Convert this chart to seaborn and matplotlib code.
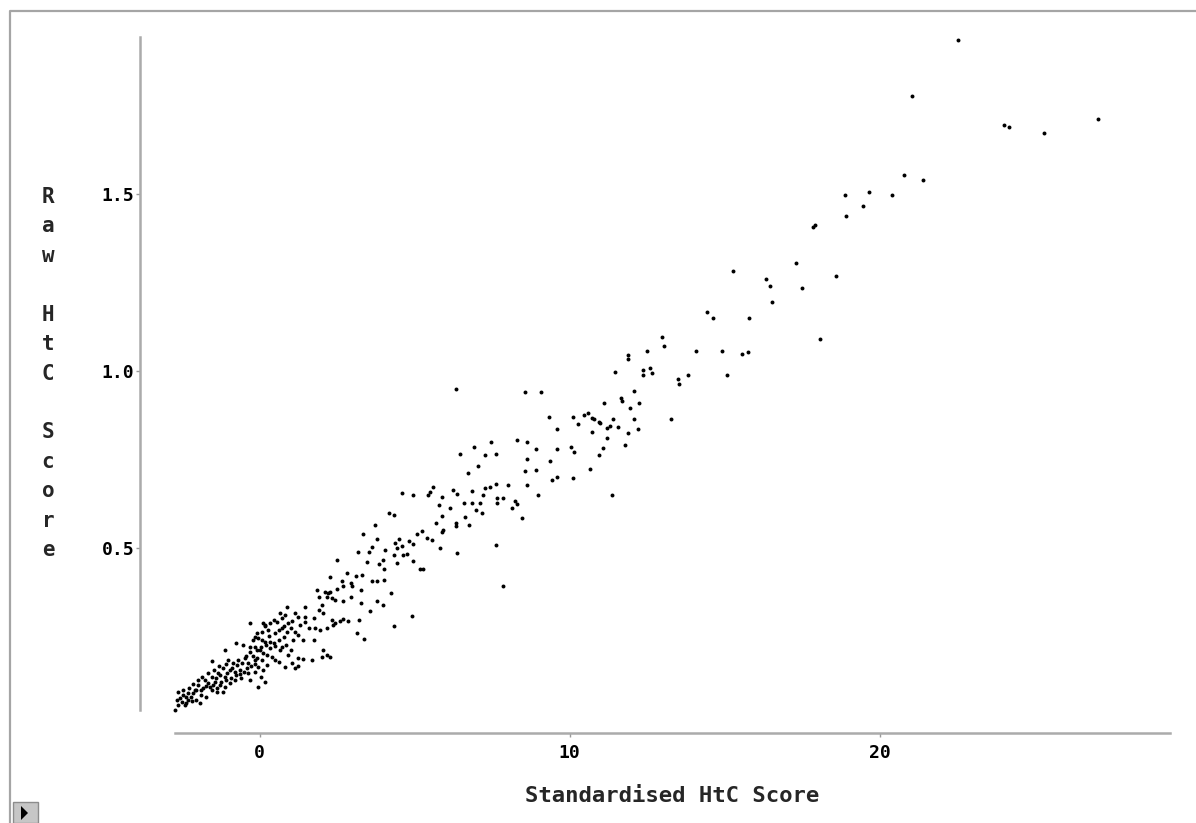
import matplotlib
matplotlib.use("Agg")
import matplotlib.pyplot as plt
import seaborn as sns
import pandas as pd
from matplotlib.lines import Line2D
from matplotlib.patches import Rectangle, Polygon

# ---------------- data ----------------
std_scores = [
    22.54, 21.06, 24.03, 24.18, 25.31, 27.04, 20.80, 21.39, 18.89, 19.66,
    20.40, 19.48, 18.93, 17.86, 17.92, 17.30, 15.26, 18.59, 16.35, 16.46,
    17.49, 16.54, 14.43, 14.62, 15.80, 18.09, 12.98, 13.04, 11.90, 11.90,
    12.49, 14.08, 14.92, 15.55, 15.77, 11.46, 12.38, 12.38, 12.60, 12.67,
    13.49, 13.53, 13.82, 15.07, 12.09, 11.11, 11.65, 11.70, 12.24, 11.94,
    11.41, 12.09, 13.27, 10.98, 11.22, 11.31, 11.55, 12.20, 11.90, 11.20,
    11.79, 11.09, 6.33, 8.57, 9.09, 9.32, 10.10, 10.28, 10.48, 10.61,
    10.72, 10.80, 10.95, 9.60, 10.73, 7.46, 8.30, 8.63, 6.90, 8.92,
    9.60, 10.05, 10.15, 6.45, 7.28, 7.62, 8.62, 9.38, 10.95, 7.06,
    8.57, 8.92, 10.67, 6.72, 9.44, 9.60, 10.10, 7.62, 8.01, 8.63,
    5.59, 6.23, 6.38, 6.85, 7.27, 7.44, 4.59, 4.96, 5.43, 5.50,
    5.88, 7.21, 7.65, 7.65, 7.85, 8.97, 11.36, 5.79, 6.15, 6.59,
    6.85, 7.11, 8.24, 8.30, 8.14, 6.97, 7.19, 4.19, 4.34, 5.88,
    6.61, 5.69, 6.33, 6.33, 6.77, 8.47, 3.73, 5.24, 5.07, 5.88,
    5.93, 3.33, 5.39, 5.55, 3.78, 4.51, 4.37, 4.81, 4.94, 3.62,
    3.17, 3.52, 4.06, 4.43, 4.59, 5.82, 6.38, 7.62, 4.32, 4.64,
    4.75, 7.85,
    2.51, 3.46, 3.86, 3.99, 4.43, 4.02, 4.96, 5.26, 5.18, 2.83,
    3.11, 3.30, 2.27, 2.65, 2.70, 2.94, 2.97, 2.49, 2.27, 3.62,
    3.78, 4.02, 3.27, 4.23, 2.33, 2.44, 2.70, 2.94, 3.78, 3.27,
    3.99, 3.56, 4.91, 2.33, 2.60, 2.68, 2.86, 2.38, 3.19, 4.34,
    3.15, 3.38,
    1.85, 1.90, 2.11, 2.22, 2.17, 2.01, 1.47, 0.88, 1.90, 2.06,
    0.66, 0.82, 0.72, 1.15, 1.25, 1.47, 1.74, 0.45, 0.34, 0.93,
    1.04, 1.79, 1.95, 2.17, 2.44, 0.12, 0.18, 0.28, 0.61, 0.72,
    0.50, 1.15, 1.25, -0.15, -0.04, 0.07, 1.09, 1.74, 0.34, 0.45,
    -0.15, 0.02, 0.12, 0.72, 0.66, 2.06, 2.17, 0.39, 0.50, 0.93,
    1.25, 1.41, 1.68, 2.01, 2.27, 0.07, 0.23, 1.04, 1.25, 1.15,
    -0.32, 0.17, -0.10, -0.21, -0.75, -0.53, -0.32, -1.12, -1.55, -1.02,
    -0.85, -0.69, -0.48, -0.37, -0.15, -1.18, -0.96, -0.80, -0.64, -0.37,
    -0.15, 0.11, -1.34, -1.12, -1.55, -1.77, -1.66, -1.45, -1.28, -1.12,
    -0.96, -0.80, -0.59, -0.32, -1.98, -1.88, -2.09, -1.55, -1.39, -1.18,
    -2.31, -2.20, -2.47, -2.63, -1.88, -1.72, -2.68, -2.52, -2.31, -2.74,
    -2.04, -1.93, -2.63, -2.41, -0.05, 0.06, 0.17, -0.10, 0.06, 0.17,
    -2.37, -2.15, -2.05, -1.82, -1.73, -1.60, -1.50, -1.37, -1.24, -1.08,
    -0.92, -0.76, -0.63, -0.50, -0.40, -0.27, -0.15, -0.05, -1.40, -1.27,
    -1.05, -0.89, -0.73, -0.56, -0.44, -0.31, -0.21, -0.08, -1.08, -1.31,
    -1.47, -1.66, -1.85, -1.98, -2.15, -2.27, -2.47, -2.56, -2.37, -2.18,
    0.21, 0.34, 0.50, 0.63, 0.79, 0.89, 1.02, 0.79, 0.56, 0.31,
    0.08, 1.31, 1.47, 1.60, 1.40, 0.85, 1.02, 0.24, 0.63, 0.82,
]
raw_scores = [
    1.936, 1.778, 1.695, 1.689, 1.674, 1.713, 1.555, 1.540, 1.497, 1.507,
    1.497, 1.467, 1.438, 1.408, 1.412, 1.305, 1.284, 1.270, 1.260, 1.240,
    1.236, 1.196, 1.167, 1.151, 1.151, 1.092, 1.097, 1.072, 1.046, 1.035,
    1.057, 1.057, 1.057, 1.049, 1.053, 0.998, 1.002, 0.990, 1.009, 0.996,
    0.978, 0.963, 0.989, 0.989, 0.944, 0.910, 0.924, 0.915, 0.910, 0.895,
    0.866, 0.866, 0.866, 0.855, 0.839, 0.845, 0.841, 0.836, 0.826, 0.811,
    0.792, 0.782, 0.950, 0.940, 0.940, 0.870, 0.870, 0.851, 0.877, 0.881,
    0.867, 0.864, 0.857, 0.836, 0.827, 0.801, 0.806, 0.801, 0.786, 0.781,
    0.781, 0.787, 0.772, 0.766, 0.762, 0.766, 0.751, 0.747, 0.762, 0.732,
    0.718, 0.722, 0.723, 0.713, 0.693, 0.702, 0.698, 0.682, 0.679, 0.679,
    0.673, 0.665, 0.653, 0.663, 0.669, 0.674, 0.657, 0.649, 0.651, 0.660,
    0.645, 0.651, 0.641, 0.627, 0.643, 0.649, 0.649, 0.623, 0.614, 0.628,
    0.628, 0.627, 0.632, 0.625, 0.614, 0.609, 0.599, 0.599, 0.594, 0.590,
    0.589, 0.572, 0.572, 0.563, 0.565, 0.585, 0.565, 0.550, 0.540, 0.547,
    0.552, 0.540, 0.528, 0.523, 0.525, 0.525, 0.516, 0.519, 0.512, 0.503,
    0.490, 0.490, 0.495, 0.500, 0.505, 0.500, 0.486, 0.510, 0.481, 0.481,
    0.484, 0.392,
    0.467, 0.462, 0.456, 0.467, 0.458, 0.441, 0.465, 0.441, 0.441, 0.431,
    0.422, 0.425, 0.418, 0.408, 0.392, 0.401, 0.392, 0.384, 0.377, 0.406,
    0.406, 0.410, 0.382, 0.373, 0.359, 0.354, 0.352, 0.362, 0.352, 0.345,
    0.340, 0.324, 0.309, 0.297, 0.295, 0.299, 0.293, 0.283, 0.297, 0.279,
    0.260, 0.243,
    0.382, 0.363, 0.377, 0.373, 0.363, 0.340, 0.335, 0.335, 0.326, 0.318,
    0.318, 0.312, 0.302, 0.316, 0.305, 0.307, 0.302, 0.297, 0.288, 0.288,
    0.295, 0.274, 0.269, 0.274, 0.288, 0.288, 0.279, 0.269, 0.269, 0.274,
    0.260, 0.264, 0.255, 0.250, 0.246, 0.241, 0.241, 0.241, 0.236, 0.232,
    0.222, 0.213, 0.203, 0.222, 0.213, 0.213, 0.199, 0.194, 0.184, 0.199,
    0.189, 0.186, 0.184, 0.194, 0.194, 0.184, 0.170, 0.175, 0.166, 0.161,
    0.288, 0.283, 0.260, 0.241, 0.232, 0.227, 0.222, 0.213, 0.180, 0.184,
    0.175, 0.184, 0.189, 0.175, 0.184, 0.161, 0.156, 0.151, 0.156, 0.147,
    0.151, 0.156, 0.147, 0.137, 0.137, 0.128, 0.119, 0.123, 0.114, 0.109,
    0.119, 0.128, 0.133, 0.128, 0.114, 0.100, 0.100, 0.100, 0.095, 0.095,
    0.090, 0.081, 0.086, 0.095, 0.086, 0.079, 0.071, 0.067, 0.071, 0.043,
    0.071, 0.062, 0.057, 0.057, 0.109, 0.137, 0.123, 0.213, 0.222, 0.236,
    0.080, 0.091, 0.100, 0.105, 0.111, 0.108, 0.114, 0.105, 0.122, 0.128,
    0.134, 0.142, 0.145, 0.151, 0.162, 0.168, 0.173, 0.165, 0.134, 0.142,
    0.148, 0.162, 0.170, 0.176, 0.196, 0.207, 0.196, 0.190, 0.173, 0.168,
    0.156, 0.148, 0.136, 0.128, 0.117, 0.105, 0.100, 0.077, 0.063, 0.069,
    0.227, 0.218, 0.224, 0.241, 0.249, 0.264, 0.275, 0.281, 0.292, 0.252,
    0.264, 0.283, 0.292, 0.275, 0.241, 0.227, 0.213, 0.199, 0.179, 0.165,
]
x_ticks = [0, 10, 20]
x_tick_labels = ["0", "10", "20"]
y_ticks = [0.5, 1.0, 1.5]
y_tick_labels = ["0.5", "1.0", "1.5"]
x_title = "Standardised HtC Score"
y_title = "Raw HtC Score"

# ---------------- styling ----------------
sns.set_style("ticks")
plt.rcParams["font.family"] = ["DejaVu Sans Mono", "DejaVu Sans"]
plt.rcParams["font.weight"] = "bold"

W, H = 1196, 823
fig = plt.figure(figsize=(W / 100, H / 100), dpi=100)
ax = fig.add_axes([175 / W, 1 - 710 / H, (1170 - 175) / W, (710 - 37) / H])

df = pd.DataFrame({"std": std_scores, "raw": raw_scores})
sns.scatterplot(data=df, x="std", y="raw", ax=ax, s=8, color="black",
                linewidth=0, marker="o", clip_on=False, legend=False)

ax.set_xlim(-2.73, 29.37)
ax.set_ylim(0.043, 1.944)
ax.set_xticks(x_ticks)
ax.set_xticklabels(x_tick_labels)
ax.set_yticks(y_ticks)
ax.set_yticklabels(y_tick_labels)

for side in ["top", "right"]:
    ax.spines[side].set_visible(False)
ax.spines["left"].set_position(("outward", 25.2))
ax.spines["bottom"].set_position(("outward", 16.6))
for side in ["left", "bottom"]:
    ax.spines[side].set_color("#ababab")
    ax.spines[side].set_linewidth(1.8)

ax.tick_params(axis="both", color="#9a9a9a", labelcolor="black",
               length=3, width=1.0, labelsize=13)
ax.tick_params(axis="y", pad=1)
ax.tick_params(axis="x", pad=5)

ax.set_xlabel(x_title, fontsize=16, fontweight="bold")
ax.xaxis.set_label_coords(0.5, (710 - 796) / 673)
ax.xaxis.label.set_va("center")

ax.set_ylabel("\n".join(y_title), rotation=0, fontsize=15,
              fontweight="bold", linespacing=1.59, ha="center", va="center")
ax.yaxis.set_label_coords((48 - 175) / 995, 0.5)

# window frame (top and left edges)
fig.add_artist(Line2D([10 / W, 10 / W, 1.0], [0.0, 1 - 11 / H, 1 - 11 / H],
                      transform=fig.transFigure, color="#a5a5a5", lw=1.6))
# small button in the lower-left corner
fig.add_artist(Rectangle((13 / W, 0.0), 25 / W, 21 / H, transform=fig.transFigure,
                         facecolor="#c6c6c6", edgecolor="#8c8c8c", lw=1))
fig.add_artist(Polygon([(21 / W, 1 - 820 / H), (21 / W, 1 - 806 / H), (28 / W, 1 - 813 / H)],
                       closed=True, transform=fig.transFigure, facecolor="black",
                       edgecolor="none"))

fig.savefig("out.png", dpi=100)
